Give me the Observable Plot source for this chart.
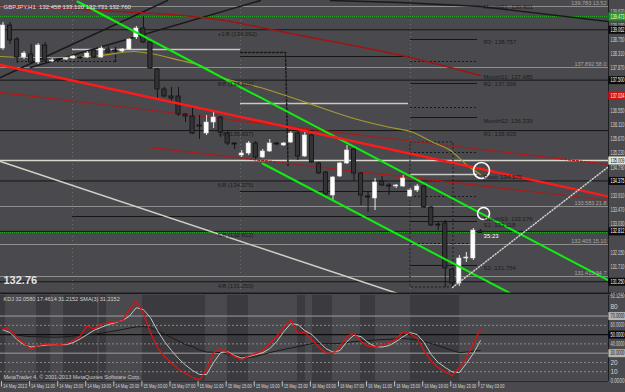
<!DOCTYPE html>
<html><head><meta charset="utf-8">
<script src="https://cdn.jsdelivr.net/npm/d3@7"></script>
<script src="https://cdn.jsdelivr.net/npm/@observablehq/plot@0.6"></script>
<style>
html,body{margin:0;padding:0;background:#4a4a4e;}
#wrap{position:relative;width:625px;height:392px;overflow:hidden;background:#4a4a4e;}
#wrap svg{position:absolute;left:0;}
</style></head><body><div id="wrap"></div>
<script>
// ---------- DATA ----------
// H1 candles [open, high, low, close], bar index 0..68
const candles = [
[138.481,139.287,138.419,139.194],[139.194,139.287,138.605,138.729],[138.760,138.822,138.016,138.202],[138.202,138.388,138.140,138.326],[138.295,138.605,137.985,138.047],
[138.047,138.636,137.985,138.574],[138.574,138.667,138.047,138.109],[138.078,138.171,138.047,138.109],[138.140,138.171,138.078,138.109],[138.140,138.202,138.109,138.171],
[138.171,138.264,138.140,138.233],[138.202,138.233,138.140,138.171],[138.202,138.388,138.171,138.326],[138.419,138.481,138.171,138.202],[138.202,138.543,138.171,138.481],
[138.450,138.543,138.326,138.357],[138.419,138.450,138.357,138.388],[138.388,138.481,138.357,138.450],[138.450,138.791,138.419,138.760],[138.822,139.163,138.760,139.101],
[139.101,139.473,138.636,138.667],[138.667,138.698,137.830,137.861],[137.830,137.861,136.900,137.210],[137.210,137.272,136.962,136.993],[136.993,137.272,136.776,136.931],
[136.993,137.272,136.373,136.435],[136.435,136.466,136.187,136.373],[136.373,136.683,135.815,135.846],[136.094,136.404,135.660,136.063],[135.846,136.404,135.784,136.187],
[136.187,136.528,136.001,136.342],[136.342,136.373,135.722,135.877],[135.846,135.908,135.474,135.536],[135.536,135.567,135.350,135.505],[135.164,135.319,135.102,135.226],
[135.226,135.598,135.164,135.536],[135.536,135.598,135.040,135.102],[135.102,135.350,135.071,135.288],[135.288,135.660,135.257,135.536],[135.536,135.567,135.474,135.505],
[135.474,135.567,135.443,135.536],[135.567,135.908,135.536,135.846],[135.846,135.908,135.009,135.133],[135.133,135.877,135.102,135.784],[135.784,135.815,134.916,134.947],
[134.916,134.947,134.575,134.606],[134.637,134.668,133.893,133.955],[133.924,134.513,133.769,134.482],[134.513,134.947,134.482,134.916],[134.916,135.474,134.885,135.319],
[135.350,135.381,134.358,134.606],[134.606,134.637,133.614,133.924],[133.893,134.017,133.397,133.862],[133.831,134.451,133.459,134.327],[134.358,134.513,134.203,134.234],
[134.234,134.296,133.924,134.203],[134.203,134.265,134.141,134.234],[134.203,134.544,134.172,134.451],[133.893,134.141,133.862,134.079],[134.079,134.265,134.017,134.203],
[134.203,134.234,133.521,133.552],[133.552,133.583,132.963,132.994],[133.025,133.087,132.839,132.994],[133.056,133.149,131.073,131.661],[131.630,131.661,131.073,131.196],
[131.196,132.064,131.104,131.971],[131.971,132.157,131.847,132.002],[131.971,132.900,131.909,132.839],[132.808,132.870,132.746,132.760]
];
const stochK = [57.0,55.4,46.2,40.3,34.4,38.2,39.8,40.0,39.5,40.3,43.5,48.4,59.4,55.9,61.6,62.7,63.7,64.7,76.9,86.0,72.6,52.2,36.0,26.7,19.4,12.9,8.1,3.8,1.1,12.4,30.6,34.6,30.9,26.3,22.6,27.4,29.6,32.8,40.6,48.2,57.5,65.6,51.4,52.7,44.1,36.3,30.3,29.8,37.1,47.8,51.3,42.5,37.6,36.6,38.8,41.6,45.2,53.4,50.9,46.0,32.2,21.4,14.5,9.8,5.6,14.5,24.7,40.3,55.9];
const stochD = [55.1,52.2,44.6,39.2,36.6,37.6,38.7,39.2,39.2,39.2,41.4,45.4,50.0,54.8,57.8,60.8,62.9,65.1,69.9,79.0,76.9,68.3,54.3,42.5,32.8,24.2,17.2,11.3,7.0,7.0,19.9,30.6,31.7,27.4,24.7,26.3,28.5,30.6,34.9,42.5,53.2,61.8,60.8,54.3,50.0,42.5,34.9,31.2,32.8,42.5,49.5,47.8,41.4,37.1,36.6,38.2,42.5,47.8,52.2,50.0,41.4,28.5,19.9,14.5,9.7,9.1,18.8,29.6,43.5];
const stochSlow = [55.9,51.8,49.5,48.4,47.8,47.6,47.4,47.2,47.3,47.6,48.4,49.5,50.0,50.5,51.4,52.7,54.1,55.4,57.0,58.3,58.6,57.5,54.3,50.5,46.8,43.0,39.2,37.1,33.3,31.2,31.0,30.6,29.0,27.4,25.8,25.3,26.3,28.5,30.6,32.3,33.9,35.5,37.1,38.7,40.3,40.3,40.3,40.3,40.5,41.4,42.5,43.0,43.5,44.1,44.6,44.9,45.4,45.7,45.2,44.1,42.5,40.3,38.2,35.5,32.8,30.6,31.2,32.3,32.8];

const timeTickIdx = [0,4,8,12,16,20,24,28,32,36,40,44,48,52,56,60,64,68];
const timeTickText = ["14 May 2013","14 May 11:00","14 May 15:00","14 May 19:00","14 May 23:00","15 May 03:00","15 May 07:00","15 May 11:00","15 May 15:00","15 May 19:00","15 May 23:00","16 May 03:00","16 May 07:00","16 May 11:00","16 May 15:00","16 May 19:00","16 May 23:00","17 May 03:00"];
const priceTicks = [139.620,139.180,138.750,138.310,137.870,136.550,136.110,135.670,135.230,134.790,133.910,133.470,133.030,132.150,131.710,130.830];

const murreyLevels = [139.062,137.500,135.937,134.375,132.812,131.250];
const murreyNames = ["+1/8","8/8","7/8","6/8","5/8","4/8"];
const greyLevels = [139.783,137.892,133.583,132.405,131.413];
const greyNotes = ["13.52","58.0","21.8","15.10","34.7"];
const lightLevel = [135.009];
const redDotLevel = [137.024];
const greenDotLevels = [139.473,132.777];
const daySeparators = [9.90,33.83,58.05];

// horizontal segments: [from bar, to bar, price]
const lightSegs = [[9.90,33.83,138.450],[33.83,57.76,136.776],[58.05,67.59,134.575]];
const darkSegs = [[33.83,58.05,138.233],[33.83,58.05,134.048],[9.90,67.59,133.273],[58.05,67.59,138.760],[58.05,67.59,137.396],[58.05,67.59,136.342],[58.05,67.59,133.118],[58.05,67.59,131.755]];
const dotSegs = [[58.05,67.59,138.078],[58.05,67.59,136.652],[58.05,67.59,135.257],[58.05,67.59,133.893],[58.05,67.59,132.436],[2.07,16.03,138.078]];
const dotPathA = [[16.03,138.512],[16.03,138.078]];
const dotPathB = [[33.83,138.357],[40.24,138.357],[40.60,134.854]];
const dotBoxC = [[58.05,64.17,131.073,135.567]];

const pivotNames = ["MonthR1: 139.601","R3: 138.757","MonthS1: 137.485","R2: 137.396","MonthS2: 136.339","R1: 135.935","Pivot: 134.575","MonthS3: 133.276","S1: 133.118","S2: 131.754"];
const pivotTextPrice = [139.760,138.665,137.580,137.365,136.245,135.840,134.480,133.180,133.000,131.660];

// trend lines & averages: [bar, price]
const greenUpper = [[10.61,139.938],[86.25,131.290]];
const greenLower = [[36.97,134.916],[72.29,130.887]];
const redThick = [[-0.36,137.970],[86.25,133.893]];
const whiteDiag = [[-0.36,134.978],[56.20,130.887]];
const whiteDotDiag = [[64.03,131.073],[86.11,134.792]];
const blackLine1 = [[-0.36,137.582],[23.43,139.969]];
const blackLine2 = [[3.92,137.892],[36.68,139.969]];
const blackTopRight = [[46.65,139.969],[56.62,139.907],[68.02,139.783],[86.25,139.318]];
const redDotA = [[21.01,135.412],[86.25,133.770]];
const redDotB = [[-0.36,137.117],[86.25,134.885]];
const darkRedMA = [[-0.36,139.814],[13.89,139.659],[29.56,139.411],[42.38,138.884],[58.05,138.202],[68.02,137.644]];
const yellowMA = [[-0.36,138.233],[3.92,138.202],[8.19,138.202],[13.89,138.264],[18.59,138.388],[21.01,138.326],[25.28,138.109],[28.13,137.954],[30.98,137.613],[36.68,137.272],[42.38,136.869],[45.66,136.621],[49.50,136.342],[55.20,136.032],[58.05,135.908],[61.32,135.567],[63.75,135.319],[66.17,134.854],[68.02,134.575]];
const circleBig = [[68.16,134.699]];
const circleSmall = [[68.45,133.366]];

const headerText = "GBPJPY,H1  132.458 133.120 132.731 132.760";
const lastPrice = "132.76";
const countdown = [[68.45,132.653,"35:23"]];

const blackBoxes = [139.062,137.500,134.375,132.812,131.250];
const greenBox = [139.473];
const redBox = [137.024];
const whiteBox = [135.009];

// indicator
const indTitle = "KDJ 32.0580 17.4614 31.2152 SMA(3) 31.2152";
const copyright = "MetaTrader 4, © 2001-2013 MetaQuotes Software Corp.";
const indBands = [[-0.36,0.36],[4.77,6.77],[8.62,13.46],[13.75,14.74],[19.87,28.85],[31.98,34.97],[41.95,43.09],[44.09,46.94],[50.93,53.06],[58.05,65.03]];
const indSolid = [70,30];
const indDashed = [60,40,20,10];
const indMid = [50];
const indTickVals = [92.129,80,60,40,20,10,0];
const indTickText = ["92.1290","80","60.0000","40.0000","20","10","0.0000"];
const indGreyBoxes = [70,30];
const indBlackBoxes = [50];

// ---------- DRAW ----------
const FONT = "Liberation Sans, DejaVu Sans, sans-serif";
const bars = candles.map(([o,h,l,c],i)=>({i,o,h,l,c,up:c>=o}));
const up = bars.filter(d=>d.up), dn = bars.filter(d=>!d.up);
const seg = a => a.map(([a1,a2,p])=>({a1,a2,p}));
const XD = [-0.356, 86.25];
const axisText = {frameAnchor:"right", dx:2, textAnchor:"start", fontSize:6.5};

const main = Plot.plot({
  width:625, height:294, marginLeft:0, marginRight:17, marginTop:0, marginBottom:1,
  x:{type:"linear", domain:XD, axis:null},
  y:{domain:[130.886,139.969], axis:null},
  style:{background:"transparent", fontFamily:FONT},
  marks:[
    Plot.ruleX(daySeparators, {x:d=>d, stroke:"#707070", strokeDasharray:"1,3", strokeWidth:1}),
    Plot.ruleY(greyLevels, {y:d=>d, x1:XD[0], x2:XD[1], stroke:"#8e8e8e"}),
    Plot.ruleY(lightLevel, {y:d=>d, x1:XD[0], x2:XD[1], stroke:"#d8d8cc", strokeWidth:1.4}),
    Plot.ruleY(murreyLevels, {y:d=>d, x1:XD[0], x2:XD[1], stroke:"#161616"}),
    Plot.ruleY(redDotLevel, {y:d=>d, x1:XD[0], x2:XD[1], stroke:"#b01818", strokeDasharray:"1,2"}),
    Plot.ruleY(greenDotLevels, {y:d=>d, x1:XD[0], x2:XD[1], stroke:"#28a028", strokeDasharray:"1,1", strokeWidth:1.2}),
    Plot.ruleY(seg(lightSegs), {y:"p", x1:"a1", x2:"a2", stroke:"#c8c8c8", strokeWidth:1.3}),
    Plot.ruleY(seg(darkSegs), {y:"p", x1:"a1", x2:"a2", stroke:"#161616"}),
    Plot.ruleY(seg(dotSegs), {y:"p", x1:"a1", x2:"a2", stroke:"#1a1a1a", strokeDasharray:"2,2"}),
    Plot.line(dotPathA, {x:d=>d[0], y:d=>d[1], stroke:"#1a1a1a", strokeDasharray:"2,2"}),
    Plot.line(dotPathB, {x:d=>d[0], y:d=>d[1], stroke:"#1a1a1a", strokeDasharray:"2,2"}),
    Plot.rect(dotBoxC, {x1:d=>d[0], x2:d=>d[1], y1:d=>d[2], y2:d=>d[3], fill:"none", stroke:"#1a1a1a", strokeDasharray:"2,2"}),
    Plot.line(blackLine1, {x:d=>d[0], y:d=>d[1], stroke:"#1a1a1a", clip:true}),
    Plot.line(blackLine2, {x:d=>d[0], y:d=>d[1], stroke:"#1a1a1a", clip:true}),
    Plot.line(blackTopRight, {x:d=>d[0], y:d=>d[1], stroke:"#1a1a1a", clip:true}),
    Plot.line(redDotA, {x:d=>d[0], y:d=>d[1], stroke:"#b01818", strokeDasharray:"2,2", clip:true}),
    Plot.line(redDotB, {x:d=>d[0], y:d=>d[1], stroke:"#b01818", strokeDasharray:"2,2", clip:true}),
    Plot.line(darkRedMA, {x:d=>d[0], y:d=>d[1], stroke:"#a01414", curve:"monotone-x", clip:true}),
    Plot.line(whiteDiag, {x:d=>d[0], y:d=>d[1], stroke:"#d0d0c8", clip:true}),
    Plot.line(yellowMA, {x:d=>d[0], y:d=>d[1], stroke:"#a89a30", strokeWidth:1.2, curve:"monotone-x", clip:true}),
    // candles
    Plot.ruleX(up, {x:"i", y1:"l", y2:"h", stroke:"#e6e6e6"}),
    Plot.ruleX(dn, {x:"i", y1:"l", y2:"h", stroke:"#141414"}),
    Plot.rect(up, {x1:d=>d.i-0.3, x2:d=>d.i+0.3, y1:"o", y2:"c", fill:"#ffffff", stroke:"#e0e0e0", strokeWidth:0.6}),
    Plot.rect(dn, {x1:d=>d.i-0.3, x2:d=>d.i+0.3, y1:"o", y2:"c", fill:"#333336", stroke:"#101010", strokeWidth:0.8}),
    // channel / trend
    Plot.line(greenUpper, {x:d=>d[0], y:d=>d[1], stroke:"#10ee10", strokeWidth:2, clip:true}),
    Plot.line(greenLower, {x:d=>d[0], y:d=>d[1], stroke:"#10ee10", strokeWidth:2, clip:true}),
    Plot.line(redThick, {x:d=>d[0], y:d=>d[1], stroke:"#ff1a1a", strokeWidth:2.4, clip:true}),
    Plot.line(whiteDotDiag, {x:d=>d[0], y:d=>d[1], stroke:"#cfcfcf", strokeDasharray:"1,2", clip:true}),
    Plot.dot(circleBig, {x:d=>d[0], y:d=>d[1], r:8, stroke:"#ffffff", strokeWidth:1.6, fill:"none"}),
    Plot.dot(circleSmall, {x:d=>d[0], y:d=>d[1], r:6, stroke:"#ffffff", strokeWidth:1.6, fill:"none"}),
    // texts
    Plot.text(murreyLevels, {x:30.6, y:d=>d, text:(d,i)=>`${murreyNames[i]} (${d.toFixed(3)})`, dy:4, textAnchor:"start", fontSize:6, fill:"#1c1c1c"}),
    Plot.text(pivotTextPrice, {x:68.45, y:d=>d, text:(d,i)=>pivotNames[i], textAnchor:"start", fontSize:6, fill:"#1c1c1c"}),
    Plot.text(greyLevels, {y:d=>d, text:(d,i)=>`${d.toFixed(3)} ${greyNotes[i]}`, frameAnchor:"right", dx:-2, dy:-3, textAnchor:"end", fontSize:5.5, fill:"#a8a8a8"}),
    Plot.text([headerText], {text:d=>d, frameAnchor:"top-left", dx:3, dy:4, textAnchor:"start", fontSize:6, fill:"#e0e0e0"}),
    Plot.text([lastPrice], {text:d=>d, frameAnchor:"bottom-left", dx:3, dy:-10, textAnchor:"start", fontSize:11, fontWeight:"bold", fill:"#e4e4e4"}),
    Plot.text(countdown, {x:d=>d[0], y:d=>d[1], text:d=>d[2], textAnchor:"start", fontSize:6, fill:"#ffffff"}),
    // right axis
    Plot.ruleX([XD[1]], {stroke:"#1e1e1e"}),
    Plot.text(priceTicks, {y:d=>d, text:d=>d.toFixed(3), ...axisText, fill:"#d4d4d4"}),
    Plot.ruleY(blackBoxes, {y:d=>d, x1:86.3, x2:90, stroke:"#0a0a0a", strokeWidth:8}),
    Plot.text(blackBoxes, {y:d=>d, text:d=>d.toFixed(3), ...axisText, fill:"#ffffff"}),
    Plot.ruleY(greenBox, {y:d=>d, x1:86.3, x2:90, stroke:"#1e9a1e", strokeWidth:8}),
    Plot.text(greenBox, {y:d=>d, text:d=>d.toFixed(3), ...axisText, fill:"#ffffff"}),
    Plot.ruleY(redBox, {y:d=>d, x1:86.3, x2:90, stroke:"#d01010", strokeWidth:8}),
    Plot.text(redBox, {y:d=>d, text:d=>d.toFixed(3), ...axisText, fill:"#ffffff"}),
    Plot.ruleY(whiteBox, {y:d=>d, x1:86.3, x2:90, stroke:"#e8e8e0", strokeWidth:8}),
    Plot.text(whiteBox, {y:d=>d, text:d=>d.toFixed(3), ...axisText, fill:"#111111"}),
    Plot.ruleY([130.886], {x1:XD[0], x2:90, stroke:"#1a1a1a", strokeWidth:2})
  ]
});
main.style.top = "0px";

const ind = Plot.plot({
  width:625, height:99, marginLeft:0, marginRight:17, marginTop:2, marginBottom:11.5,
  x:{type:"linear", domain:XD, axis:null},
  y:{domain:[0,92.129], axis:null},
  style:{background:"transparent", fontFamily:FONT},
  marks:[
    Plot.rect(indBands, {x1:d=>d[0], x2:d=>d[1], fill:"#3b3b3f"}),
    Plot.ruleY(indSolid, {y:d=>d, x1:XD[0], x2:XD[1], stroke:"#9e9e9e"}),
    Plot.ruleY(indDashed, {y:d=>d, x1:XD[0], x2:XD[1], stroke:"#8a8a8a", strokeDasharray:"2,2"}),
    Plot.ruleY(indMid, {y:d=>d, x1:XD[0], x2:XD[1], stroke:"#0e0e0e", strokeWidth:1.2}),
    Plot.line(stochSlow, {x:(d,i)=>i, y:d=>d, stroke:"#1a1a1a", strokeWidth:1}),
    Plot.line(stochD, {x:(d,i)=>i, y:d=>d, stroke:"#c4c4c4", strokeWidth:1}),
    Plot.line(stochK, {x:(d,i)=>i, y:d=>d, stroke:"#e01010", strokeWidth:1.3}),
    Plot.text([indTitle], {text:d=>d, frameAnchor:"top-left", dx:3, dy:2, textAnchor:"start", fontSize:5.5, fill:"#d0d0d0"}),
    Plot.text([copyright], {text:d=>d, frameAnchor:"bottom-left", dx:3, dy:-2, textAnchor:"start", fontSize:5.5, fill:"#c8c8c8"}),
    Plot.ruleY([-0.6], {x1:XD[0], x2:XD[1], stroke:"#2a2a2a"}),
    Plot.ruleX([XD[1]], {stroke:"#1e1e1e"}),
    Plot.text(indTickVals, {y:d=>d, text:(d,i)=>indTickText[i], ...axisText, fill:"#d4d4d4"}),
    Plot.ruleY(indGreyBoxes, {y:d=>d, x1:86.3, x2:90, stroke:"#b4b4b4", strokeWidth:8}),
    Plot.text(indGreyBoxes, {y:d=>d, text:d=>d.toFixed(4), ...axisText, fill:"#111"}),
    Plot.ruleY(indBlackBoxes, {y:d=>d, x1:86.3, x2:90, stroke:"#0a0a0a", strokeWidth:8}),
    Plot.text(indBlackBoxes, {y:d=>d, text:d=>d.toFixed(4), ...axisText, fill:"#fff"}),
    // time axis
    Plot.ruleX(timeTickIdx, {x:d=>d, dx:-1.5, insetTop:86, insetBottom:-6, stroke:"#bdbdbd"}),
    Plot.text(timeTickIdx, {x:d=>d, text:(d,i)=>timeTickText[i], frameAnchor:"bottom", dy:7, dx:0, textAnchor:"start", fontSize:6, fill:"#d4d4d4"})
  ]
});
ind.style.top = "293px";

const wrap = document.getElementById("wrap");
wrap.appendChild(main);
wrap.appendChild(ind);

// squeeze small texts into the room the terminal gives them
for (const svg of [main, ind]) {
  const sl = svg.getBoundingClientRect().left;
  svg.querySelectorAll("text").forEach(t => {
    const txt = t.textContent;
    let len;
    try { len = t.getComputedTextLength(); } catch (e) { return; }
    const left = t.getBoundingClientRect().left - sl;
    if (left >= 606 && len > 14) {
      t.setAttribute("textLength", 14);
      t.setAttribute("lengthAdjust", "spacingAndGlyphs");
    } else if (/May/.test(txt) && len > 24) {
      t.setAttribute("textLength", 24);
      t.setAttribute("lengthAdjust", "spacingAndGlyphs");
    }
  });
}
</script></body></html>
